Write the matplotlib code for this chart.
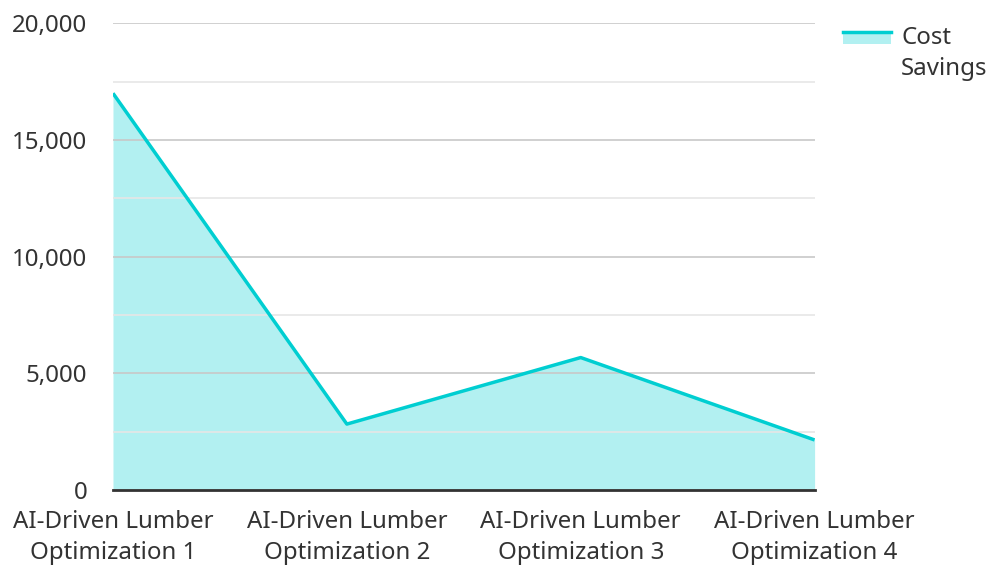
import matplotlib
import matplotlib.pyplot as plt
from matplotlib.legend_handler import HandlerBase
from matplotlib.lines import Line2D
from matplotlib.patches import Rectangle
from matplotlib.ticker import FuncFormatter, MultipleLocator

matplotlib.use('Agg')

categories = [
    'AI-Driven Lumber\nOptimization 1',
    'AI-Driven Lumber\nOptimization 2',
    'AI-Driven Lumber\nOptimization 3',
    'AI-Driven Lumber\nOptimization 4',
]
cost_savings = [17000, 2830, 5680, 2150]
series_name = 'Cost\nSavings'

LINE = '#00ced1'
FILL = '#b2f0f1'
TEXT = '#333333'
FONT_SIZE = 17.3

plt.rcParams['font.family'] = ['Noto Sans', 'DejaVu Sans']


class AreaHandler(HandlerBase):
    """Legend key: line level with the first text row, shaded band below it."""

    def create_artists(self, legend, orig_handle, xdescent, ydescent,
                       width, height, fontsize, trans):
        top = height * 0.5 - ydescent + 0.92 * fontsize
        band_h = 0.5 * fontsize
        band = Rectangle((-xdescent, top - band_h), width, band_h,
                         facecolor=FILL, edgecolor='none', transform=trans)
        line = Line2D([-xdescent, -xdescent + width], [top, top],
                      color=LINE, linewidth=2.5, transform=trans)
        return [band, line]


fig = plt.figure(figsize=(9.91, 5.66), dpi=100)
ax = fig.add_axes([0.114, 0.134, 0.708, 0.825])

x = list(range(len(categories)))
ax.fill_between(x, cost_savings, 0, color=FILL, linewidth=0, zorder=1)
ax.plot(x, cost_savings, color=LINE, linewidth=2.5, zorder=3, solid_capstyle='butt')

ax.set_xlim(0, len(categories) - 1)
ax.set_ylim(0, 20000)
ax.yaxis.set_major_locator(MultipleLocator(5000))
ax.yaxis.set_minor_locator(MultipleLocator(2500))
ax.yaxis.set_major_formatter(FuncFormatter(lambda v, _: f'{int(v):,}'))
ax.grid(axis='y', which='major', color='#c8c8c8', linewidth=1.2, zorder=2)
ax.grid(axis='y', which='minor', color='#e6e6e6', linewidth=1.2, zorder=2)
ax.set_axisbelow(False)

ax.set_xticks(x)
ax.set_xticklabels(categories, linespacing=1.4)
ax.tick_params(axis='both', which='both', length=0, labelsize=FONT_SIZE, colors=TEXT)
ax.tick_params(axis='x', pad=14)
ax.tick_params(axis='y', pad=18.5)

for side in ('top', 'right', 'left'):
    ax.spines[side].set_visible(False)
ax.spines['bottom'].set_color('#333333')
ax.spines['bottom'].set_linewidth(2)
ax.spines['bottom'].set_zorder(4)

handle = Rectangle((0, 0), 1, 1)
leg = fig.legend([handle], [series_name], handler_map={Rectangle: AreaHandler()},
                 loc='upper left', bbox_to_anchor=(0.829, 0.992), frameon=False,
                 fontsize=FONT_SIZE, labelcolor=TEXT, handlelength=2.0,
                 handletextpad=0.42)
leg.get_texts()[0].set_linespacing(1.4)

fig.savefig('out.png', dpi=100)
plt.close(fig)
